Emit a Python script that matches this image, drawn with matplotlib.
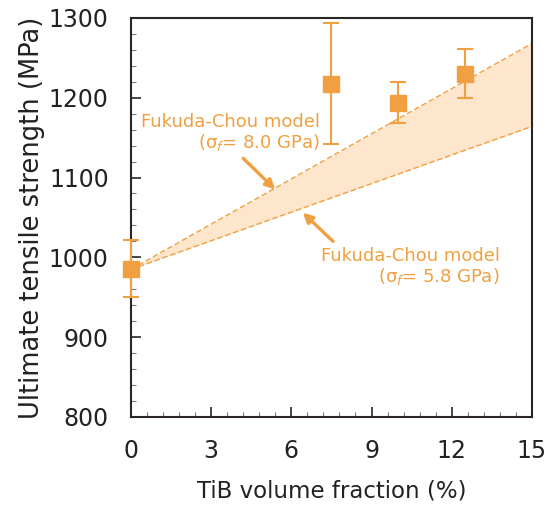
import matplotlib
matplotlib.use("Agg")
import matplotlib.pyplot as plt
from matplotlib.ticker import MultipleLocator

# Data
tib_fraction = [0, 7.5, 10, 12.5]
uts = [985, 1217, 1193, 1230]
err_low = [35, 75, 25, 30]
err_high = [37, 76, 27, 31]

model_x = [0, 15]
model_high = [985, 1268]   # sigma_f = 8.0 GPa
model_low = [985, 1164]    # sigma_f = 5.8 GPa

orange = "#f0a040"
dark = "#2b2623"

plt.rcParams['font.family'] = ['DejaVu Sans']
fig = plt.figure(figsize=(5.56, 5.11), dpi=100)
ax = fig.add_axes([0.2356, 0.184, 0.721, 0.781])

ax.fill_between(model_x, model_low, model_high, color="#fde6cc", lw=0, zorder=1)
ax.plot(model_x, model_high, ls=(0, (4, 2)), color=orange, lw=1.0, zorder=2)
ax.plot(model_x, model_low, ls=(0, (4, 2)), color=orange, lw=1.0, zorder=2)

ax.errorbar(tib_fraction, uts, yerr=[err_low, err_high], fmt='s', color=orange,
            ms=11, ecolor=orange, elinewidth=1.5, capsize=6, capthick=1.5,
            clip_on=False, zorder=3)

ax.set_xlim(0, 15)
ax.set_ylim(800, 1300)
ax.xaxis.set_major_locator(MultipleLocator(3))
ax.xaxis.set_minor_locator(MultipleLocator(0.6))
ax.yaxis.set_major_locator(MultipleLocator(100))
ax.yaxis.set_minor_locator(MultipleLocator(20))
ax.tick_params(which='major', direction='in', length=7, width=1.2, color=dark,
               labelsize=17, labelcolor="#222222")
ax.tick_params(axis='y', which='major', pad=16)
ax.tick_params(axis='x', which='major', pad=16)
ax.tick_params(which='minor', direction='in', length=3.5, width=0.8, color="#777777")
for s in ax.spines.values():
    s.set_linewidth(1.5)
    s.set_color(dark)

ax.set_xlabel("TiB volume fraction (%)", fontsize=16.5, color="#222222", labelpad=12)
ax.set_ylabel("Ultimate tensile strength (MPa)", fontsize=18.5, color="#222222", labelpad=3)

ax.text(7.07, 1156, "Fukuda-Chou model\n(σ$_f$= 8.0 GPa)", ha='right', va='center',
        fontsize=13, color=orange, linespacing=1.05)
ax.text(13.8, 988, "Fukuda-Chou model\n(σ$_f$= 5.8 GPa)", ha='right', va='center',
        fontsize=13, color=orange, linespacing=1.05)

arrow = dict(arrowstyle='-|>', color=orange, lw=2.4, mutation_scale=14,
             shrinkA=0, shrinkB=0)
ax.annotate("", xy=(5.4, 1085), xytext=(4.2, 1124), arrowprops=arrow)
ax.annotate("", xy=(6.43, 1056), xytext=(7.56, 1020), arrowprops=arrow)

fig.savefig("out.png", dpi=100)
